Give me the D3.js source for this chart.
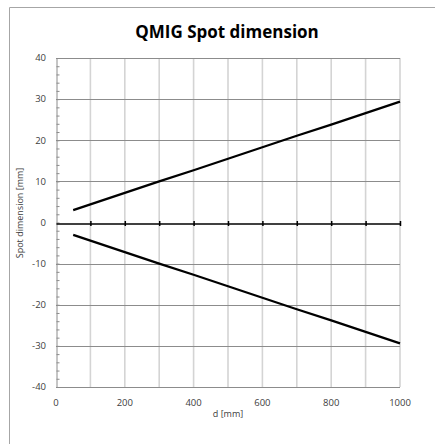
<!DOCTYPE html>
<meta charset="utf-8">
<style>
body { margin: 0; background: #fff; }
text { font-family: "Open Sans", "Liberation Sans", sans-serif; }
</style>
<svg width="435" height="444"></svg>
<script src="https://d3js.org/d3.v7.min.js"></script>
<script>

// distance from source [mm] and the spot half-width [mm]
var distances = [50, 100, 200, 300, 400, 500, 600, 700, 800, 900, 1000];
var upper = [3.0, 4.4, 7.2, 10.0, 12.7, 15.5, 18.3, 21.1, 23.8, 26.6, 29.4];
var lower = [-3.0, -4.4, -7.2, -10.0, -12.7, -15.5, -18.3, -21.1, -23.8, -26.6, -29.4];
var xTicks = [0, 200, 400, 600, 800, 1000];
var xGrid = [100, 200, 300, 400, 500, 600, 700, 800, 900, 1000];
var yTicks = [-40, -30, -20, -10, 0, 10, 20, 30, 40];

var svg = d3.select("svg");

// chart frame
svg.append("path")
    .attr("d", "M9.5,450V7.5H440")
    .attr("fill", "none")
    .attr("stroke", "#a6a6a6")
    .attr("stroke-width", 1);

var x = d3.scaleLinear().domain([0, 1000]).range([56, 400]);
var y = d3.scaleLinear().domain([-40, 40]).range([387, 58]);

// vertical gridlines (light)
svg.append("g")
  .selectAll("line")
  .data(xGrid)
  .enter().append("line")
    .attr("x1", function(d) { return x(d); })
    .attr("x2", function(d) { return x(d); })
    .attr("y1", y(40))
    .attr("y2", y(-40))
    .attr("stroke", "#d4d4d4")
    .attr("stroke-width", 1.6);

// horizontal gridlines (darker)
svg.append("g")
  .selectAll("line")
  .data(yTicks.filter(function(d) { return d !== 0; }))
  .enter().append("line")
    .attr("x1", x(0))
    .attr("x2", x(1000))
    .attr("y1", function(d) { return Math.round(y(d)) + 0.5; })
    .attr("y2", function(d) { return Math.round(y(d)) + 0.5; })
    .attr("stroke", "#8c8c8c")
    .attr("stroke-width", 1);

// y axis with minor ticks pointing inwards
var yAxis = svg.append("g")
    .attr("transform", "translate(" + (x(0) + 0.5) + ",0)")
    .call(d3.axisRight(y)
      .tickValues(d3.range(-40, 41, 2))
      .tickSize(3)
      .tickFormat(""));
yAxis.select(".domain").attr("stroke", "#8c8c8c");
yAxis.selectAll(".tick line").attr("stroke", "#8c8c8c");

svg.append("g")
  .selectAll("text")
  .data(yTicks)
  .enter().append("text")
    .attr("x", 46)
    .attr("y", function(d) { return y(d); })
    .attr("dy", "0.35em")
    .attr("text-anchor", "end")
    .attr("font-size", 9.5)
    .attr("fill", "#404040")
    .text(function(d) { return d; });

// x axis on the zero line
var xAxis = svg.append("g")
    .attr("transform", "translate(0," + (Math.round(y(0)) + 0.5) + ")")
    .call(d3.axisBottom(x)
      .tickValues(xGrid)
      .tickSize(0)
      .tickFormat(""));
xAxis.select(".domain").attr("stroke", "#000").attr("stroke-width", 1.3);
xAxis.selectAll(".tick line")
    .attr("y1", -2.5)
    .attr("y2", 2.5)
    .attr("stroke", "#000")
    .attr("stroke-width", 1.5);

svg.append("g")
  .selectAll("text")
  .data(xTicks)
  .enter().append("text")
    .attr("x", function(d) { return x(d); })
    .attr("y", 406)
    .attr("text-anchor", "middle")
    .attr("font-size", 9.5)
    .attr("fill", "#404040")
    .text(function(d) { return d; });

// the two spot edges
var line = d3.line()
    .x(function(d, i) { return x(distances[i]); })
    .y(function(d) { return y(d); });

[upper, lower].forEach(function(s) {
  svg.append("path")
      .datum(s)
      .attr("fill", "none")
      .attr("stroke", "#000")
      .attr("stroke-width", 2.2)
      .attr("d", line);
});

// titles
svg.append("text")
    .attr("x", 227)
    .attr("y", 38)
    .attr("text-anchor", "middle")
    .attr("font-size", 17)
    .attr("font-weight", "bold")
    .attr("fill", "#000")
    .text("QMIG Spot dimension");

svg.append("text")
    .attr("x", 228)
    .attr("y", 417)
    .attr("text-anchor", "middle")
    .attr("font-size", 9)
    .attr("fill", "#404040")
    .text("d [mm]");

svg.append("text")
    .attr("transform", "translate(23,213) rotate(-90)")
    .attr("text-anchor", "middle")
    .attr("font-size", 9)
    .attr("fill", "#404040")
    .text("Spot dimension [mm]");

</script>
